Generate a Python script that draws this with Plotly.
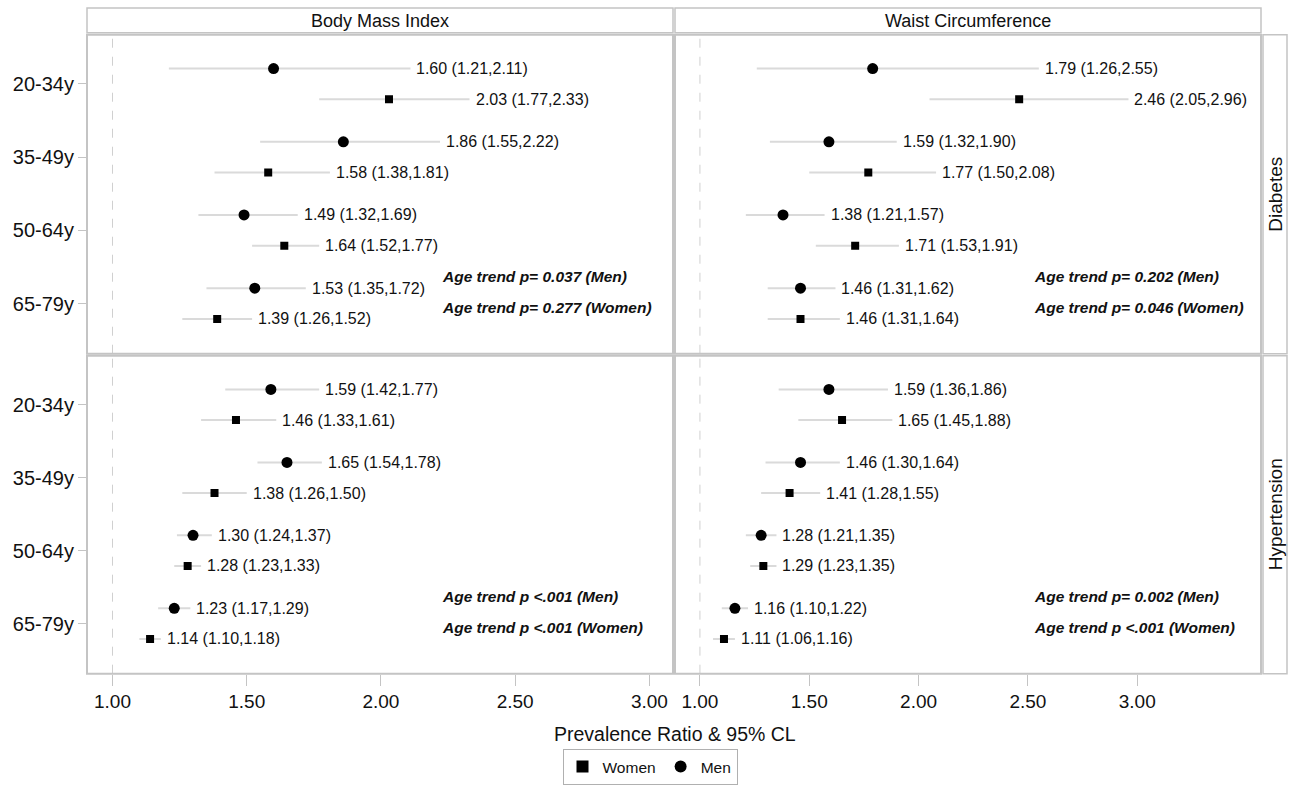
import plotly.graph_objects as go

# ---------------- data ----------------
age_groups = ["20-34y", "35-49y", "50-64y", "65-79y"]

# Diabetes, Body Mass Index
bmi_dia_men_pr = [1.60, 1.86, 1.49, 1.53]
bmi_dia_men_lo = [1.21, 1.55, 1.32, 1.35]
bmi_dia_men_hi = [2.11, 2.22, 1.69, 1.72]
bmi_dia_wom_pr = [2.03, 1.58, 1.64, 1.39]
bmi_dia_wom_lo = [1.77, 1.38, 1.52, 1.26]
bmi_dia_wom_hi = [2.33, 1.81, 1.77, 1.52]

# Diabetes, Waist Circumference
wc_dia_men_pr = [1.79, 1.59, 1.38, 1.46]
wc_dia_men_lo = [1.26, 1.32, 1.21, 1.31]
wc_dia_men_hi = [2.55, 1.90, 1.57, 1.62]
wc_dia_wom_pr = [2.46, 1.77, 1.71, 1.46]
wc_dia_wom_lo = [2.05, 1.50, 1.53, 1.31]
wc_dia_wom_hi = [2.96, 2.08, 1.91, 1.64]

# Hypertension, Body Mass Index
bmi_hyp_men_pr = [1.59, 1.65, 1.30, 1.23]
bmi_hyp_men_lo = [1.42, 1.54, 1.24, 1.17]
bmi_hyp_men_hi = [1.77, 1.78, 1.37, 1.29]
bmi_hyp_wom_pr = [1.46, 1.38, 1.28, 1.14]
bmi_hyp_wom_lo = [1.33, 1.26, 1.23, 1.10]
bmi_hyp_wom_hi = [1.61, 1.50, 1.33, 1.18]

# Hypertension, Waist Circumference
wc_hyp_men_pr = [1.59, 1.46, 1.28, 1.16]
wc_hyp_men_lo = [1.36, 1.30, 1.21, 1.10]
wc_hyp_men_hi = [1.86, 1.64, 1.35, 1.22]
wc_hyp_wom_pr = [1.65, 1.41, 1.29, 1.11]
wc_hyp_wom_lo = [1.45, 1.28, 1.23, 1.06]
wc_hyp_wom_hi = [1.88, 1.55, 1.35, 1.16]

trend_bmi_dia = ["Age trend p= 0.037 (Men)", "Age trend p= 0.277 (Women)"]
trend_wc_dia = ["Age trend p= 0.202 (Men)", "Age trend p= 0.046 (Women)"]
trend_bmi_hyp = ["Age trend p <.001 (Men)", "Age trend p <.001 (Women)"]
trend_wc_hyp = ["Age trend p= 0.002 (Men)", "Age trend p <.001 (Women)"]

column_titles = ["Body Mass Index", "Waist Circumference"]
row_titles = ["Diabetes", "Hypertension"]
x_ticks = [1.00, 1.50, 2.00, 2.50, 3.00]
x_title = "Prevalence Ratio & 95% CL"

# ---------------- layout helpers ----------------
W, H = 1291, 785
FONT = "Liberation Sans, Arial, sans-serif"
GRAY = "#c4c4c4"
CI_COLOR = "#dadada"


def px(p):
    return p / W


def py(p):
    return 1 - p / H


col_x = [(87, 673), (675, 1261)]
row_y = [(35, 356), (358, 678)]
x_ranges = [[0.905, 3.088], [0.886, 3.566]]
y_range = [3.686, -0.672]
OFF = 0.21

panels = [
    # (row, col, men (pr, lo, hi), women (pr, lo, hi), trend texts)
    (0, 0, (bmi_dia_men_pr, bmi_dia_men_lo, bmi_dia_men_hi),
     (bmi_dia_wom_pr, bmi_dia_wom_lo, bmi_dia_wom_hi), trend_bmi_dia),
    (0, 1, (wc_dia_men_pr, wc_dia_men_lo, wc_dia_men_hi),
     (wc_dia_wom_pr, wc_dia_wom_lo, wc_dia_wom_hi), trend_wc_dia),
    (1, 0, (bmi_hyp_men_pr, bmi_hyp_men_lo, bmi_hyp_men_hi),
     (bmi_hyp_wom_pr, bmi_hyp_wom_lo, bmi_hyp_wom_hi), trend_bmi_hyp),
    (1, 1, (wc_hyp_men_pr, wc_hyp_men_lo, wc_hyp_men_hi),
     (wc_hyp_wom_pr, wc_hyp_wom_lo, wc_hyp_wom_hi), trend_wc_hyp),
]

trend_x = [2.22, 2.52]
trend_y = [2.63, 3.055]

fig = go.Figure()
annotations = []
shapes = []
layout_axes = {}

for idx, (r, c, men, wom, trend) in enumerate(panels):
    n = idx + 1
    xa = "x" if n == 1 else f"x{n}"
    ya = "y" if n == 1 else f"y{n}"
    xkey = "xaxis" if n == 1 else f"xaxis{n}"
    ykey = "yaxis" if n == 1 else f"yaxis{n}"
    show_x = r == 1
    show_y = c == 0
    layout_axes[xkey] = dict(
        domain=[px(col_x[c][0]), px(col_x[c][1])],
        anchor=ya,
        range=x_ranges[c],
        showgrid=False, zeroline=False, showline=False,
        tickvals=x_ticks if show_x else [],
        ticktext=[f"{v:.2f}" for v in x_ticks] if show_x else [],
        ticks="outside" if show_x else "",
        ticklen=11, tickwidth=1, tickcolor=GRAY,
        showticklabels=show_x,
        tickfont=dict(family=FONT, size=19, color="#111111"),
        automargin=False,
    )
    layout_axes[ykey] = dict(
        domain=[py(row_y[r][1]), py(row_y[r][0])],
        anchor=xa,
        range=y_range,
        showgrid=False, zeroline=False, showline=False,
        tickvals=list(range(len(age_groups))) if show_y else [],
        ticktext=age_groups if show_y else [],
        ticks="outside" if show_y else "",
        ticklen=8, tickwidth=1, tickcolor=GRAY,
        showticklabels=show_y,
        tickfont=dict(family=FONT, size=20, color="#111111"),
        automargin=False,
    )

    # reference line at 1
    shapes.append(dict(type="line", xref=xa, yref=f"{ya} domain",
                       x0=1, x1=1, y0=0, y1=1,
                       line=dict(color="#d0d0d0", width=1, dash="dash"),
                       layer="below"))

    for (pr, lo, hi), name, sym, size, off in [
        (wom, "Women", "square", 8, OFF),
        (men, "Men", "circle", 11, -OFF),
    ]:
        ys = [i + off for i in range(len(pr))]
        fig.add_trace(go.Scatter(
            x=pr, y=ys, xaxis=xa, yaxis=ya, mode="markers",
            name=name, legendgroup=name, showlegend=(n == 1),
            marker=dict(symbol=sym, size=size, color="black"),
            error_x=dict(type="data", symmetric=False,
                         array=[h - p for h, p in zip(hi, pr)],
                         arrayminus=[p - l for p, l in zip(pr, lo)],
                         width=0, thickness=2, color=CI_COLOR),
            hoverinfo="skip",
        ))
        for p, l, h, yv in zip(pr, lo, hi, ys):
            annotations.append(dict(
                x=h, y=yv, xref=xa, yref=ya, xanchor="left", yanchor="middle",
                xshift=4, showarrow=False,
                text=f"{p:.2f} ({l:.2f},{h:.2f})",
                font=dict(family=FONT, size=16, color="#111111"),
            ))

    for t, yv in zip(trend, trend_y):
        annotations.append(dict(
            x=trend_x[c], y=yv, xref=xa, yref=ya, xanchor="left",
            yanchor="middle", showarrow=False,
            text=f"<b><i>{t}</i></b>",
            font=dict(family=FONT, size=15.5, color="#111111"),
        ))

    # panel border
    shapes.append(dict(type="rect", xref="paper", yref="paper",
                       x0=px(col_x[c][0]), x1=px(col_x[c][1]),
                       y0=py(row_y[r][1]), y1=py(row_y[r][0]),
                       line=dict(color=GRAY, width=2), fillcolor="rgba(0,0,0,0)"))

# column headers
for c, title in enumerate(column_titles):
    shapes.append(dict(type="rect", xref="paper", yref="paper",
                       x0=px(col_x[c][0]), x1=px(col_x[c][1]),
                       y0=py(33), y1=py(8),
                       line=dict(color=GRAY, width=1.5), fillcolor="white"))
    annotations.append(dict(
        x=px((col_x[c][0] + col_x[c][1]) / 2), y=py(21), xref="paper", yref="paper",
        xanchor="center", yanchor="middle", showarrow=False, text=title,
        font=dict(family=FONT, size=18, color="#111111"),
    ))

# row strips
for r, title in enumerate(row_titles):
    shapes.append(dict(type="rect", xref="paper", yref="paper",
                       x0=px(1263), x1=px(1287),
                       y0=py(row_y[r][1]), y1=py(row_y[r][0]),
                       line=dict(color=GRAY, width=1.5), fillcolor="white"))
    annotations.append(dict(
        x=px(1275.5), y=py((row_y[r][0] + row_y[r][1]) / 2), xref="paper", yref="paper",
        xanchor="center", yanchor="middle", showarrow=False, text=title,
        textangle=-90, font=dict(family=FONT, size=19, color="#111111"),
    ))

# x-axis title
annotations.append(dict(
    x=px(675), y=py(739), xref="paper", yref="paper",
    xanchor="center", yanchor="middle", showarrow=False, text=x_title,
    font=dict(family=FONT, size=19.5, color="#111111"),
))

fig.update_layout(
    width=W, height=H,
    margin=dict(l=0, r=0, t=0, b=0),
    paper_bgcolor="white", plot_bgcolor="white",
    showlegend=True,
    legend=dict(
        orientation="h", x=px(650), y=py(772), xanchor="center", yanchor="middle",
        bordercolor="#b0b0b0", borderwidth=1, bgcolor="white",
        font=dict(family=FONT, size=15.5, color="#111111"),
        itemsizing="constant", itemwidth=30, tracegroupgap=0,
    ),
    annotations=annotations,
    shapes=shapes,
    **layout_axes,
)

fig.write_html(
    "out.html",
    config={"displayModeBar": False},
    post_script="document.body.style.margin='0';document.body.style.overflow='hidden';",
)
